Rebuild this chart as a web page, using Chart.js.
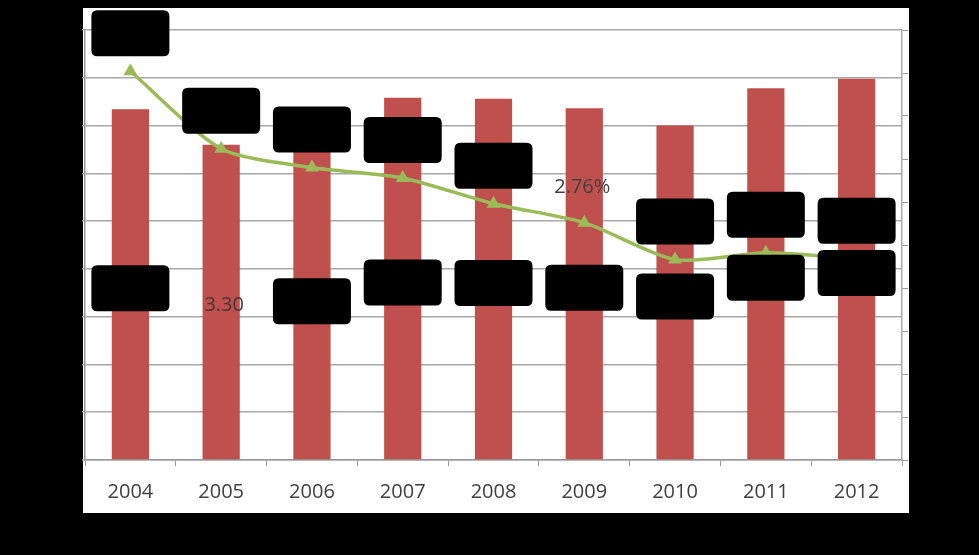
<!DOCTYPE html>
<html>
<head>
<meta charset="utf-8">
<script src="https://cdn.jsdelivr.net/npm/chart.js@4/dist/chart.umd.min.js"></script>
<style>
  html, body { margin: 0; padding: 0; background: #000; }
  #wrap { width: 979px; height: 555px; }
</style>
</head>
<body>
<div id="wrap"><canvas id="chart" width="979" height="555"></canvas></div>
<script>
// data
const years = ["2004", "2005", "2006", "2007", "2008", "2009", "2010", "2011", "2012"];
const barValues = [3.67, 3.30, 3.40, 3.79, 3.78, 3.68, 3.50, 3.89, 3.99];
const lineValues = [4.52, 3.62, 3.40, 3.28, 2.98, 2.76, 2.33, 2.41, 2.34];
// which data labels are readable (the rest are blacked out in the picture)
const barLabelShown = [false, true, false, false, false, false, false, false, false];
const lineLabelShown = [false, false, false, false, false, true, false, false, false];

const red = "#c0504d";
const green = "#9bbb59";
const gridGray = "#a8a8a8";

// black page with the white chart panel
const panelPlugin = {
    id: "panel",
    beforeDraw(chart) {
        const ctx = chart.ctx;
        const a = chart.chartArea;
        ctx.save();
        ctx.fillStyle = "#000";
        ctx.fillRect(0, 0, chart.width, chart.height);
        ctx.fillStyle = "#fff";
        ctx.fillRect(a.left - 2, a.top - 22, a.right - a.left + 9, a.bottom - a.top + 75);
        ctx.restore();
    }
};

function roundBox(ctx, cx, cy, w, h, r) {
    const x = cx - w / 2, y = cy - h / 2;
    ctx.beginPath();
    ctx.moveTo(x + r, y);
    ctx.lineTo(x + w - r, y);
    ctx.quadraticCurveTo(x + w, y, x + w, y + r);
    ctx.lineTo(x + w, y + h - r);
    ctx.quadraticCurveTo(x + w, y + h, x + w - r, y + h);
    ctx.lineTo(x + r, y + h);
    ctx.quadraticCurveTo(x, y + h, x, y + h - r);
    ctx.lineTo(x, y + r);
    ctx.quadraticCurveTo(x, y, x + r, y);
    ctx.closePath();
    ctx.fill();
}

// data labels: bar labels centred in the bar, line labels above the point
const labelPlugin = {
    id: "labels",
    afterDatasetsDraw(chart) {
        const ctx = chart.ctx;
        ctx.save();
        ctx.font = "20px 'Open Sans', sans-serif";
        ctx.textAlign = "center";
        ctx.textBaseline = "middle";

        const bars = chart.getDatasetMeta(0).data;
        bars.forEach((bar, i) => {
            const cy = (bar.y + bar.base) / 2;
            if (barLabelShown[i]) {
                ctx.fillStyle = "#4a3434";
                ctx.fillText(barValues[i].toFixed(2), bar.x + 3, cy + 3);
            } else {
                ctx.fillStyle = "#000";
                roundBox(ctx, bar.x, cy + 4, 78, 46, 6);
            }
        });

        const pts = chart.getDatasetMeta(1).data;
        pts.forEach((p, i) => {
            const cy = p.y - 38;
            if (lineLabelShown[i]) {
                ctx.fillStyle = "#404040";
                ctx.fillText(lineValues[i].toFixed(2) + "%", p.x - 2, cy + 3);
            } else {
                ctx.fillStyle = "#000";
                roundBox(ctx, p.x, cy, 78, 46, 6);
            }
        });
        ctx.restore();
    }
};

new Chart(document.getElementById("chart"), {
    type: "bar",
    data: {
        labels: years,
        datasets: [
            {
                type: "bar",
                data: barValues,
                backgroundColor: red,
                borderWidth: 0,
                barPercentage: 0.41,
                categoryPercentage: 1,
                yAxisID: "y",
                order: 1
            },
            {
                type: "line",
                data: lineValues,
                borderColor: green,
                borderWidth: 3.5,
                backgroundColor: green,
                pointStyle: "triangle",
                pointRadius: 8,
                pointBorderWidth: 0,
                tension: 0.25,
                yAxisID: "y1",
                order: 0
            }
        ]
    },
    options: {
        responsive: false,
        animation: false,
        layout: { padding: { top: 30 } },
        plugins: {
            legend: { display: false },
            tooltip: { enabled: false }
        },
        scales: {
            x: {
                offset: true,
                grid: { display: true, drawOnChartArea: false, offset: true, tickLength: 6, color: "#999" },
                border: { color: "#999", width: 1.5 },
                ticks: { color: "#404040", font: { family: "'Open Sans', sans-serif", size: 20 }, padding: 14 },
                afterFit(scale) { scale.height = 95; }
            },
            y: {
                position: "left",
                min: 0,
                max: 4.5,
                ticks: { display: false, stepSize: 0.5 },
                grid: { color: gridGray, lineWidth: 1.5, tickLength: 3 },
                border: { color: "#999", width: 1.5 },
                afterFit(scale) { scale.width = 85; }
            },
            y1: {
                position: "right",
                min: 0,
                max: 5,
                ticks: { display: false, stepSize: 0.5 },
                grid: { drawOnChartArea: false, color: "#999", tickLength: 6 },
                border: { color: "#a8a8b8", width: 1.5 },
                afterFit(scale) { scale.width = 77; }
            }
        }
    },
    plugins: [panelPlugin, labelPlugin]
});
</script>
</body>
</html>
